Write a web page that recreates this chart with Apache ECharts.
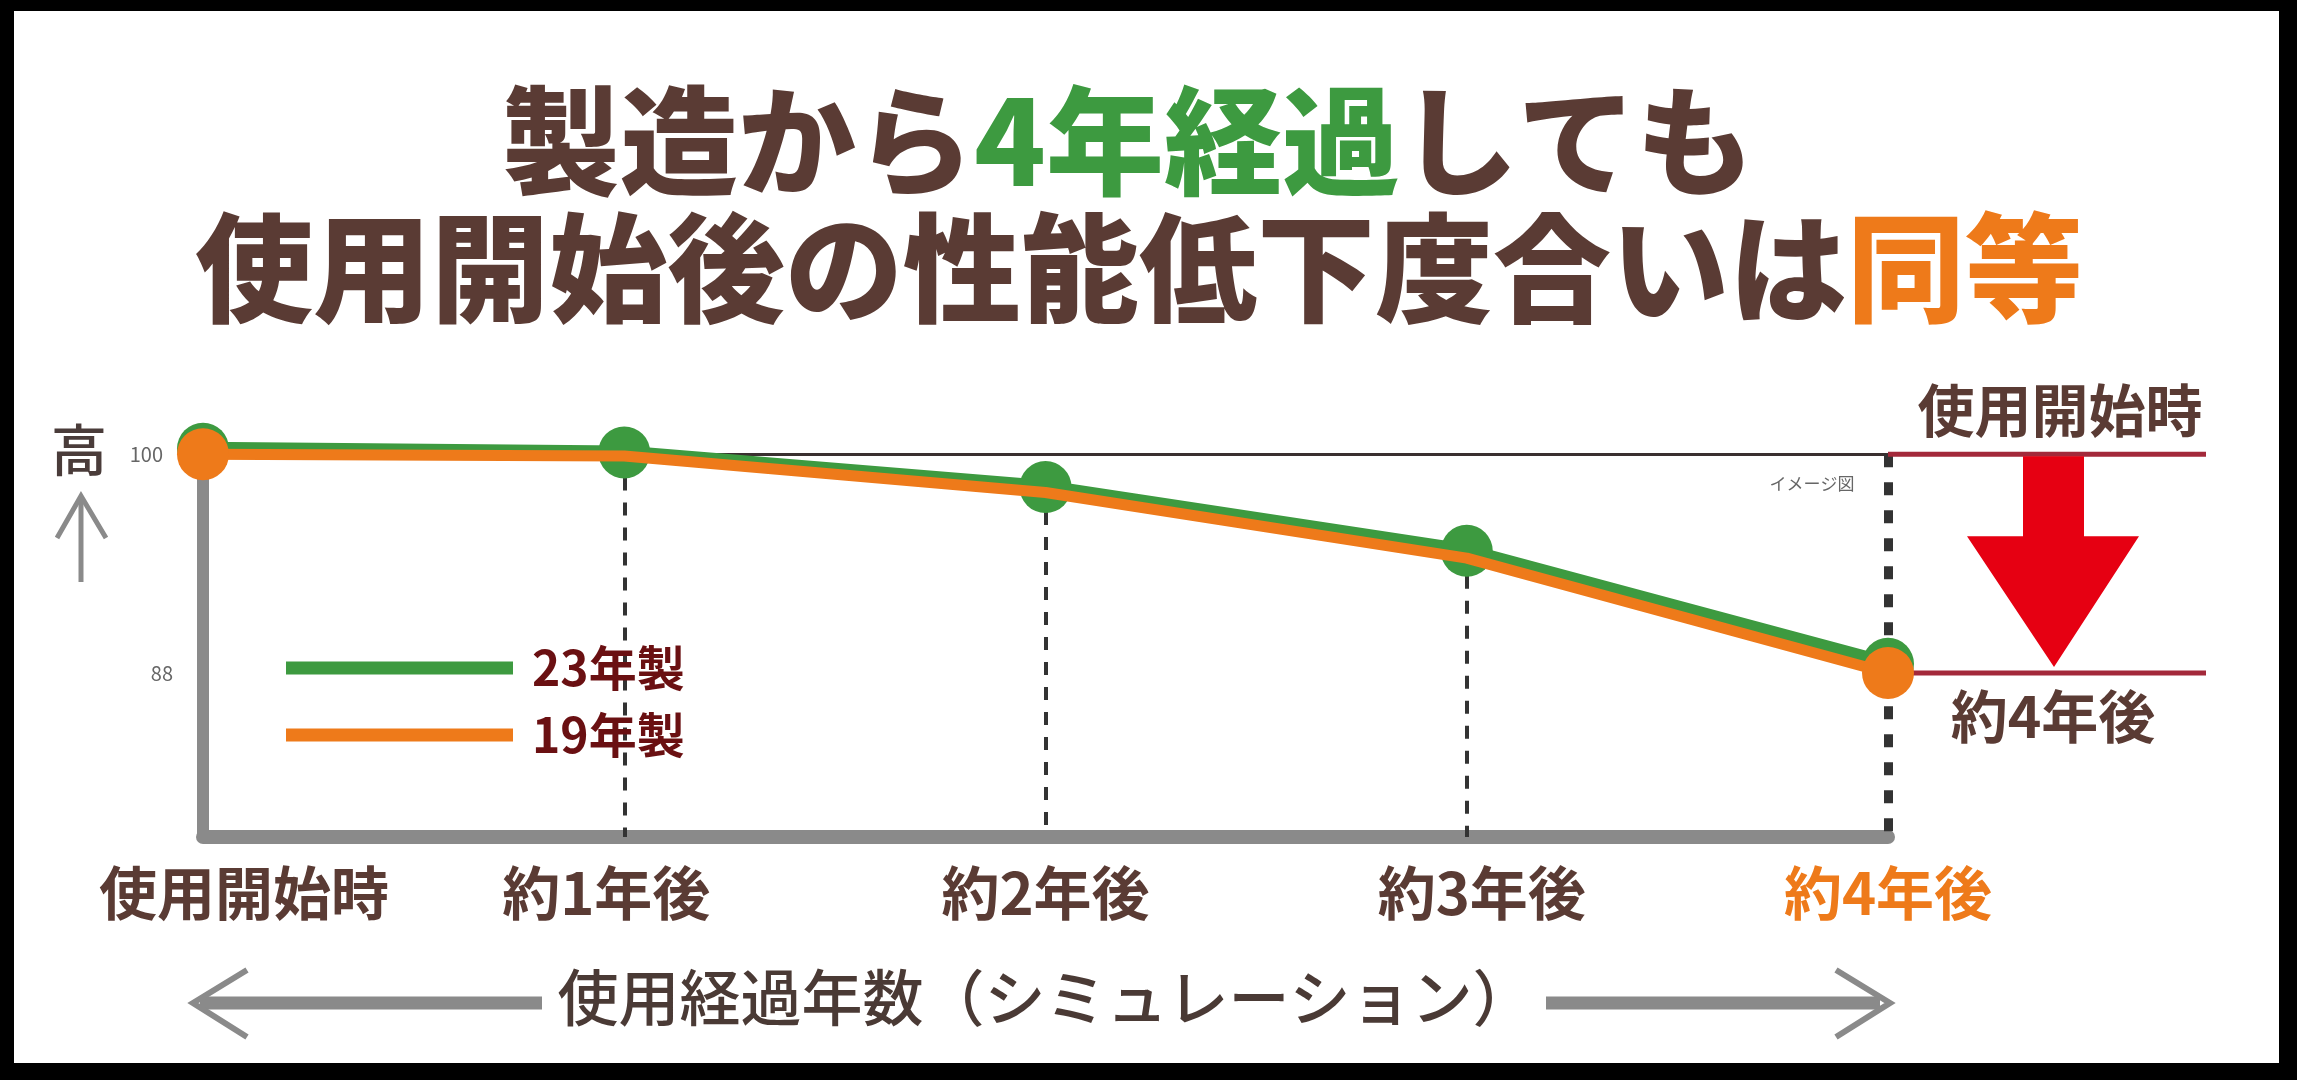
<!DOCTYPE html>
<html>
<head>
<meta charset="utf-8">
<title>性能低下度合い</title>
<script src="https://cdn.jsdelivr.net/npm/echarts@6.0.0/dist/echarts.min.js"></script>
<style>
  html, body { margin: 0; padding: 0; background: #000; }
  #main { width: 2297px; height: 1080px; }
</style>
</head>
<body>
<div id="main"></div>
<script>
// データ
const categories = ['使用開始時', '約1年後', '約2年後', '約3年後', '約4年後'];
const seriesNames = ['23年製', '19年製'];
const values23 = [100.3, 100.1, 98.2, 94.7, 88.5];
const values19 = [100, 99.9, 97.9, 94.3, 88];
const yLabelTicks = [100, 88];
const yMin = 79;
const yMax = 101;

const FONT = '"Noto Sans CJK JP", "Noto Sans", sans-serif';
const BROWN = '#5a3b34';
const GREEN = '#3d9a40';
const ORANGE = '#ee7a1a';
const GRAY = '#8a8a8a';

var chart = echarts.init(document.getElementById('main'));

// 縦の点線（各年の点から軸まで）
const dashLines = [];
for (let i = 1; i < categories.length; i++) {
  const last = i === categories.length - 1;
  dashLines.push([
    { coord: [i, last ? 100 : values23[i]], lineStyle: { type: last ? [13, 15] : [13, 12], width: last ? 9 : 4, color: '#333' } },
    { coord: [i, yMin] }
  ]);
}

const option = {
  backgroundColor: '#fff',
  animation: false,
  grid: { left: 203, right: 409, top: 436, bottom: 243 },
  legend: {
    data: seriesNames,
    orient: 'vertical',
    left: 281,
    top: 638,
    itemWidth: 227,
    itemHeight: 13,
    itemGap: 17,
    icon: 'rect',
    selectedMode: false,
    textStyle: { fontSize: 48, fontWeight: 'bold', color: '#6a1012', fontFamily: FONT, lineHeight: 50, padding: [0, 0, 0, 14] }
  },
  xAxis: {
    type: 'category',
    data: categories,
    boundaryGap: false,
    axisLine: { lineStyle: { color: GRAY, width: 14 } },
    axisTick: { show: false },
    splitLine: { show: false },
    axisLabel: {
      interval: 0,
      margin: 27,
      fontSize: 58,
      lineHeight: 58,
      fontWeight: 'bold',
      color: BROWN,
      fontFamily: FONT,
      formatter: function (v, i) {
        const key = ['f', 'l', 'n', 'r', 'o'][i];
        return '{' + key + '|' + v + '}';
      },
      rich: {
        f: { padding: [0, 0, 0, 82] },
        l: { padding: [0, 36, 0, 0] },
        n: {},
        r: { padding: [0, 0, 0, 30] },
        o: { color: ORANGE }
      }
    },
    name: '使用経過年数（シミュレーション）',
    nameLocation: 'middle',
    nameGap: 130,
    nameTextStyle: { fontSize: 61, color: '#4a3a35', fontFamily: FONT, fontWeight: 500 }
  },
  yAxis: {
    type: 'value',
    min: yMin,
    max: yMax,
    interval: 1,
    axisLine: { show: true, lineStyle: { color: GRAY, width: 12 } },
    axisTick: { show: false },
    splitLine: { show: false },
    axisLabel: {
      margin: 30,
      fontSize: 20,
      color: '#666',
      fontFamily: FONT,
      formatter: function (v) {
        if (v === yLabelTicks[0]) return '{a|' + v + '}';
        if (yLabelTicks.indexOf(v) >= 0) return '{b|' + v + '}';
        return '';
      },
      rich: { a: { padding: [0, 10, 0, 0] }, b: {} }
    }
  },
  series: [
    {
      name: seriesNames[0],
      type: 'line',
      data: values23,
      z: 2,
      symbol: 'circle',
      symbolSize: 52,
      itemStyle: { color: GREEN },
      lineStyle: { color: GREEN, width: 14, join: 'round' },
      markLine: {
        silent: true,
        z: 1,
        symbol: ['none', 'none'],
        label: { show: false },
        data: [{ yAxis: 100, lineStyle: { type: 'solid', color: '#3a3030', width: 3 } }].concat(dashLines)
      }
    },
    {
      name: seriesNames[1],
      type: 'line',
      z: 3,
      data: values19.map(function (v, i) {
        return (i === 0 || i === values19.length - 1) ? v : { value: v, symbol: 'none' };
      }),
      symbol: 'circle',
      symbolSize: 52,
      itemStyle: { color: ORANGE },
      lineStyle: { color: ORANGE, width: 11, join: 'round' }
    }
  ]
};
chart.setOption(option);

// 注記（右側の矢印・ラベルなど）
const y100 = chart.convertToPixel({ yAxisIndex: 0 }, 100);
const y88 = chart.convertToPixel({ yAxisIndex: 0 }, 88);
const xLast = chart.convertToPixel({ xAxisIndex: 0 }, categories.length - 1);

const graphics = [
  // タイトル
  {
    type: 'text', x: 1128, y: 141, z: 10,
    style: {
      text: '{b|製造から}{g|4年経過}{b|しても}', align: 'center', verticalAlign: 'middle',
      rich: {
        b: { fontSize: 118, fontWeight: 900, fontFamily: FONT, fill: BROWN },
        g: { fontSize: 118, fontWeight: 900, fontFamily: FONT, fill: GREEN }
      }
    }
  },
  {
    type: 'text', x: 1139, y: 268, z: 10,
    style: {
      text: '{b|使用開始後の性能低下度合いは}{o|同等}', align: 'center', verticalAlign: 'middle',
      rich: {
        b: { fontSize: 118, fontWeight: 900, fontFamily: FONT, fill: BROWN },
        o: { fontSize: 118, fontWeight: 900, fontFamily: FONT, fill: ORANGE }
      }
    }
  },
  // 縦軸「高」と上向き矢印
  { type: 'text', x: 79, y: 450, z: 10, style: { text: '高', fontSize: 56, fontWeight: 500, fontFamily: FONT, fill: '#4a3c3a', align: 'center', verticalAlign: 'middle' } },
  { type: 'line', z: 10, shape: { x1: 81, y1: 496, x2: 81, y2: 582 }, style: { stroke: GRAY, lineWidth: 5 } },
  { type: 'polyline', z: 10, shape: { points: [[57, 538], [81, 496], [106, 538]] }, style: { stroke: GRAY, lineWidth: 5, fill: null } },
  // イメージ図
  { type: 'text', x: 1812, y: 484, z: 10, style: { text: 'イメージ図', fontSize: 17, fontFamily: FONT, fill: '#666', align: 'center', verticalAlign: 'middle' } },
  // 右側の比較
  { type: 'line', z: 1, shape: { x1: xLast, y1: y100, x2: 2206, y2: y100 }, style: { stroke: '#a3293a', lineWidth: 5 } },
  { type: 'line', z: 1, shape: { x1: xLast, y1: y88, x2: 2206, y2: y88 }, style: { stroke: '#a3293a', lineWidth: 5 } },
  {
    type: 'polygon', z: 10,
    shape: { points: [[2023, y100 + 2], [2084, y100 + 2], [2084, y100 + 82], [2139, y100 + 82], [2054, y88 - 6], [1967, y100 + 82], [2023, y100 + 82]] },
    style: { fill: '#e60012' }
  },
  { type: 'text', x: 2060, y: 410, z: 10, style: { text: '使用開始時', fontSize: 57, fontWeight: 'bold', fontFamily: FONT, fill: BROWN, align: 'center', verticalAlign: 'middle' } },
  { type: 'text', x: 2053, y: 716, z: 10, style: { text: '約4年後', fontSize: 57, fontWeight: 'bold', fontFamily: FONT, fill: BROWN, align: 'center', verticalAlign: 'middle' } },
  // 下部の左右矢印
  { type: 'line', z: 10, shape: { x1: 200, y1: 1003, x2: 542, y2: 1003 }, style: { stroke: GRAY, lineWidth: 13 } },
  { type: 'polyline', z: 10, shape: { points: [[247, 970], [193, 1003], [247, 1037]] }, style: { stroke: GRAY, lineWidth: 6, fill: null } },
  { type: 'line', z: 10, shape: { x1: 1546, y1: 1003, x2: 1880, y2: 1003 }, style: { stroke: GRAY, lineWidth: 13 } },
  { type: 'polyline', z: 10, shape: { points: [[1836, 970], [1890, 1003], [1836, 1037]] }, style: { stroke: GRAY, lineWidth: 6, fill: null } },
  // 黒い枠
  { type: 'rect', z: 100, shape: { x: 0, y: 0, width: 2297, height: 11 }, style: { fill: '#000' } },
  { type: 'rect', z: 100, shape: { x: 0, y: 0, width: 14, height: 1080 }, style: { fill: '#000' } },
  { type: 'rect', z: 100, shape: { x: 2279, y: 0, width: 18, height: 1080 }, style: { fill: '#000' } },
  { type: 'rect', z: 100, shape: { x: 0, y: 1063, width: 2297, height: 17 }, style: { fill: '#000' } }
];
chart.setOption({ graphic: graphics });
</script>
</body>
</html>
